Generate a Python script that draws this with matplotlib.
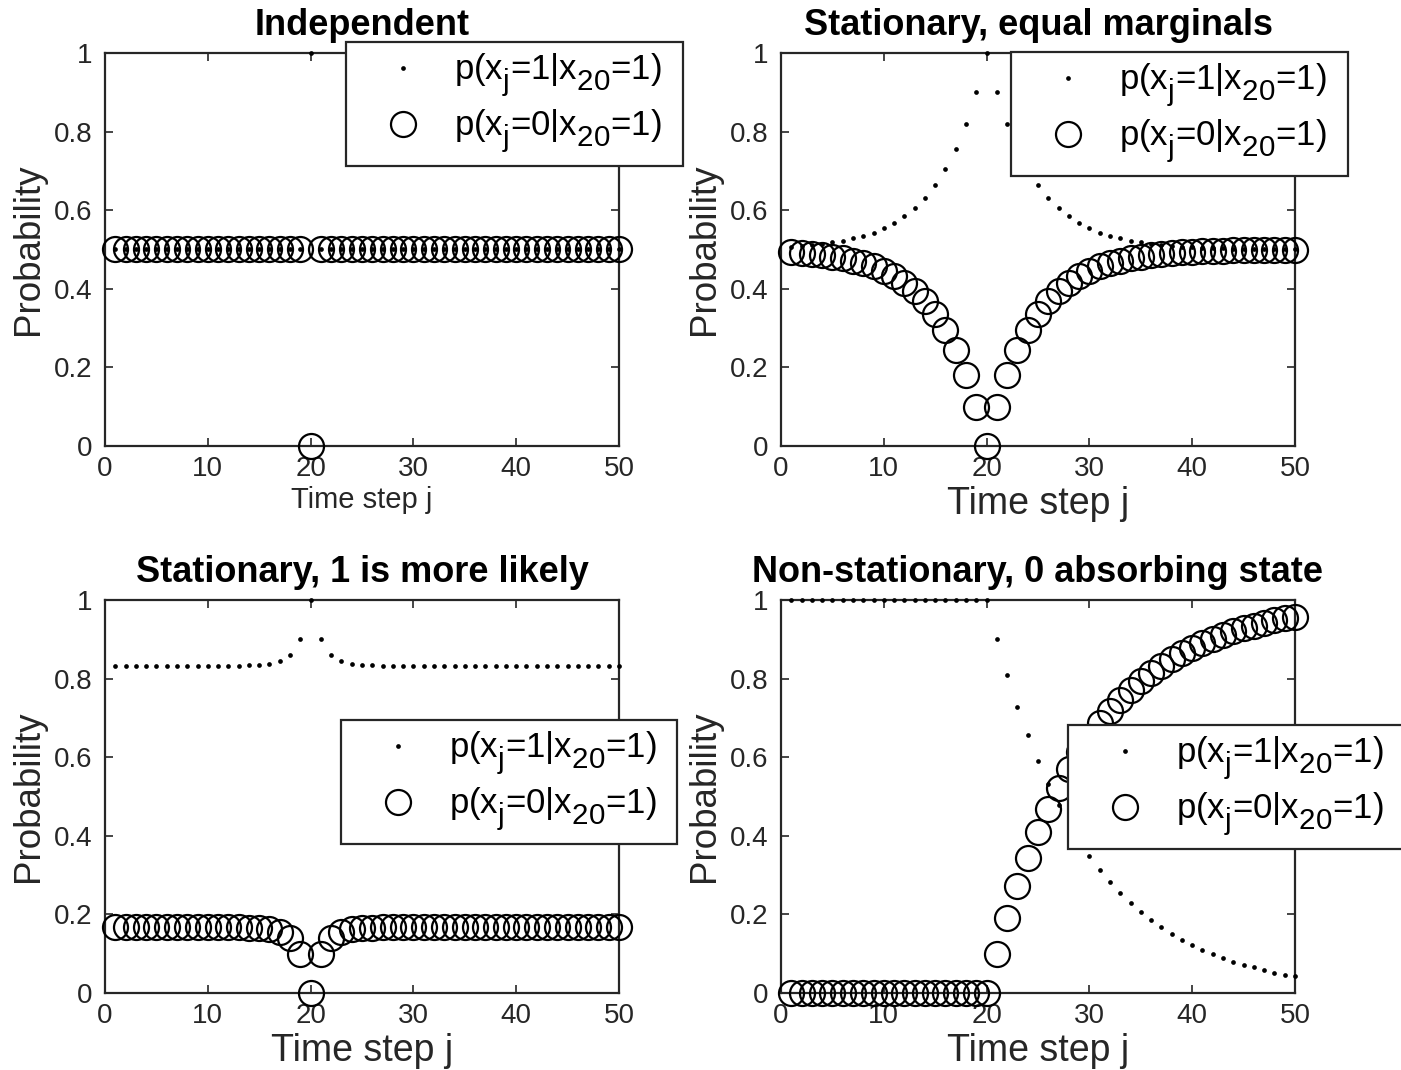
import matplotlib
matplotlib.use("Agg")
import matplotlib.pyplot as plt

# MATLAB-style TeX subscripts: larger and lower than matplotlib default
try:
    import matplotlib._mathtext as _mt
    _mt.SHRINK_FACTOR = 0.85
    _mt.FontConstantsBase.sub1 = 0.58
    _mt.FontConstantsBase.sub2 = 0.75
except Exception:
    pass

# ---------------- data ----------------
steps = list(range(1, 51))
xticks = [0, 10, 20, 30, 40, 50]
yticks = [0, 0.2, 0.4, 0.6, 0.8, 1.0]
ytick_labels = ["0", "0.2", "0.4", "0.6", "0.8", "1"]

titles = ["Independent", "Stationary, equal marginals",
          "Stationary, 1 is more likely", "Non-stationary, 0 absorbing state"]
legend_labels = [r"p(x$_\mathrm{j}$=1|x$_\mathrm{20}$=1)",
                 r"p(x$_\mathrm{j}$=0|x$_\mathrm{20}$=1)"]

indep_p1 = [0.5, 0.5, 0.5, 0.5, 0.5, 0.5, 0.5, 0.5, 0.5, 0.5,
            0.5, 0.5, 0.5, 0.5, 0.5, 0.5, 0.5, 0.5, 0.5, 1.0,
            0.5, 0.5, 0.5, 0.5, 0.5, 0.5, 0.5, 0.5, 0.5, 0.5,
            0.5, 0.5, 0.5, 0.5, 0.5, 0.5, 0.5, 0.5, 0.5, 0.5,
            0.5, 0.5, 0.5, 0.5, 0.5, 0.5, 0.5, 0.5, 0.5, 0.5]
indep_p0 = [0.5, 0.5, 0.5, 0.5, 0.5, 0.5, 0.5, 0.5, 0.5, 0.5,
            0.5, 0.5, 0.5, 0.5, 0.5, 0.5, 0.5, 0.5, 0.5, 0.0,
            0.5, 0.5, 0.5, 0.5, 0.5, 0.5, 0.5, 0.5, 0.5, 0.5,
            0.5, 0.5, 0.5, 0.5, 0.5, 0.5, 0.5, 0.5, 0.5, 0.5,
            0.5, 0.5, 0.5, 0.5, 0.5, 0.5, 0.5, 0.5, 0.5, 0.5]

equal_p1 = [0.507, 0.509, 0.511, 0.514, 0.518, 0.522, 0.528, 0.534, 0.543, 0.554,
            0.567, 0.584, 0.605, 0.631, 0.664, 0.705, 0.756, 0.820, 0.900, 1.000,
            0.900, 0.820, 0.756, 0.705, 0.664, 0.631, 0.605, 0.584, 0.567, 0.554,
            0.543, 0.534, 0.528, 0.522, 0.518, 0.514, 0.511, 0.509, 0.507, 0.506,
            0.505, 0.504, 0.503, 0.502, 0.502, 0.502, 0.501, 0.501, 0.501, 0.501]
equal_p0 = [0.493, 0.491, 0.489, 0.486, 0.482, 0.478, 0.472, 0.466, 0.457, 0.446,
            0.433, 0.416, 0.395, 0.369, 0.336, 0.295, 0.244, 0.180, 0.100, 0.000,
            0.100, 0.180, 0.244, 0.295, 0.336, 0.369, 0.395, 0.416, 0.433, 0.446,
            0.457, 0.466, 0.472, 0.478, 0.482, 0.486, 0.489, 0.491, 0.493, 0.494,
            0.495, 0.496, 0.497, 0.498, 0.498, 0.498, 0.499, 0.499, 0.499, 0.499]

likely1_p1 = [0.833, 0.833, 0.833, 0.833, 0.833, 0.833, 0.833, 0.833, 0.833, 0.833,
              0.833, 0.833, 0.833, 0.834, 0.835, 0.838, 0.844, 0.860, 0.900, 1.000,
              0.900, 0.860, 0.844, 0.838, 0.835, 0.834, 0.833, 0.833, 0.833, 0.833,
              0.833, 0.833, 0.833, 0.833, 0.833, 0.833, 0.833, 0.833, 0.833, 0.833,
              0.833, 0.833, 0.833, 0.833, 0.833, 0.833, 0.833, 0.833, 0.833, 0.833]
likely1_p0 = [0.167, 0.167, 0.167, 0.167, 0.167, 0.167, 0.167, 0.167, 0.167, 0.167,
              0.167, 0.167, 0.167, 0.166, 0.165, 0.162, 0.156, 0.140, 0.100, 0.000,
              0.100, 0.140, 0.156, 0.162, 0.165, 0.166, 0.167, 0.167, 0.167, 0.167,
              0.167, 0.167, 0.167, 0.167, 0.167, 0.167, 0.167, 0.167, 0.167, 0.167,
              0.167, 0.167, 0.167, 0.167, 0.167, 0.167, 0.167, 0.167, 0.167, 0.167]

absorb_p1 = [1.0, 1.0, 1.0, 1.0, 1.0, 1.0, 1.0, 1.0, 1.0, 1.0,
             1.0, 1.0, 1.0, 1.0, 1.0, 1.0, 1.0, 1.0, 1.0, 1.0,
             0.900, 0.810, 0.729, 0.656, 0.590, 0.531, 0.478, 0.430, 0.387, 0.349,
             0.314, 0.282, 0.254, 0.229, 0.206, 0.185, 0.167, 0.150, 0.135, 0.122,
             0.109, 0.098, 0.089, 0.080, 0.072, 0.065, 0.058, 0.052, 0.047, 0.042]
absorb_p0 = [0.0, 0.0, 0.0, 0.0, 0.0, 0.0, 0.0, 0.0, 0.0, 0.0,
             0.0, 0.0, 0.0, 0.0, 0.0, 0.0, 0.0, 0.0, 0.0, 0.0,
             0.100, 0.190, 0.271, 0.344, 0.410, 0.469, 0.522, 0.570, 0.613, 0.651,
             0.686, 0.718, 0.746, 0.771, 0.794, 0.815, 0.833, 0.850, 0.865, 0.878,
             0.891, 0.902, 0.911, 0.920, 0.928, 0.935, 0.942, 0.948, 0.953, 0.958]

panels = [(indep_p1, indep_p0), (equal_p1, equal_p0),
          (likely1_p1, likely1_p0), (absorb_p1, absorb_p0)]

# ---------------- style ----------------
W, H = 1401, 1070
plt.rcParams["font.family"] = ["Liberation Sans", "DejaVu Sans"]
plt.rcParams["mathtext.fontset"] = "custom"
plt.rcParams["mathtext.rm"] = "Liberation Sans"
plt.rcParams["mathtext.it"] = "Liberation Sans"
DARK = "#262626"

fig = plt.figure(figsize=(W / 100, H / 100), dpi=100)

def px_rect(l, t, r, b):
    return [l / W, 1 - b / H, (r - l) / W, (b - t) / H]

axes_px = [(105, 53, 619, 446), (781, 53, 1295, 446),
           (105, 600, 619, 993), (781, 600, 1295, 993)]
legend_px = [(346, 42, 683), (1011, 52, 1348), (341, 720, 677), (1068, 725, 1404)]
xlabel_sizes = [21, 27, 27, 27]

for i, ((p1, p0), rect) in enumerate(zip(panels, axes_px)):
    ax = fig.add_axes(px_rect(*rect))
    ax.plot(steps, p1, linestyle="none", marker="o", ms=3.4, mfc="black",
            mec="black", mew=0, clip_on=False, label=legend_labels[0], zorder=3)
    ax.plot(steps, p0, linestyle="none", marker="o", ms=18, mfc="none",
            mec="black", mew=1.6, clip_on=False, label=legend_labels[1], zorder=3)
    ax.set_xlim(0, 50)
    ax.set_ylim(0, 1)
    ax.set_xticks(xticks)
    ax.set_yticks(yticks)
    ax.set_yticklabels(ytick_labels)
    ax.tick_params(direction="in", top=True, right=True, length=6, width=1.2,
                   labelsize=20, colors=DARK)
    ax.tick_params(axis="x", pad=7)
    ax.tick_params(axis="y", pad=9)
    for s in ax.spines.values():
        s.set_linewidth(1.6)
        s.set_color(DARK)
    ax.set_title(titles[i], fontsize=26, fontweight="bold", pad=13)
    ax.set_xlabel("Time step j", fontsize=xlabel_sizes[i], color=DARK, labelpad=3)
    ax.set_ylabel("Probability", fontsize=26.5, color=DARK, labelpad=6)
    l, t, r = legend_px[i]
    leg = ax.legend(loc="upper left", mode="expand",
                    bbox_to_anchor=(l / W, 1 - t / H - 0.2, (r - l) / W, 0.2),
                    bbox_transform=fig.transFigure, borderaxespad=0,
                    fontsize=25, frameon=True, fancybox=False, framealpha=1,
                    edgecolor=DARK, handlelength=2.7, handletextpad=0.1,
                    borderpad=0.3, labelspacing=0.25)
    leg.get_frame().set_linewidth(1.6)
    leg.set_zorder(10)

fig.savefig("out.png", dpi=100)
